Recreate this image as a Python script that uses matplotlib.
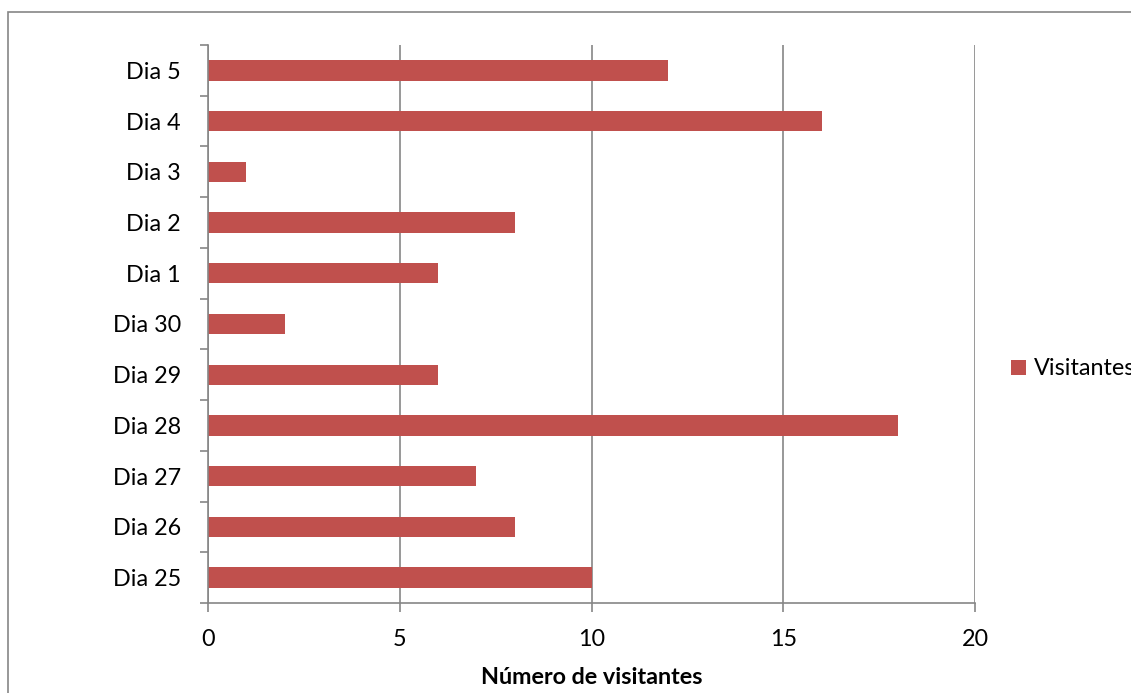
import matplotlib
matplotlib.use("Agg")
import matplotlib.pyplot as plt
from matplotlib.patches import Rectangle
import numpy as np

days = ["Dia 25", "Dia 26", "Dia 27", "Dia 28", "Dia 29", "Dia 30",
        "Dia 1", "Dia 2", "Dia 3", "Dia 4", "Dia 5"]
visitors = [10, 8, 7, 18, 6, 2, 6, 8, 1, 16, 12]
x_ticks = [0, 5, 10, 15, 20]
series_name = "Visitantes"
x_label = "Número de visitantes"

plt.rcParams["font.family"] = ["Lato", "DejaVu Sans"]
bar_color = "#C0504D"
axis_gray = "#868686"
fs = 16.8

fig = plt.figure(figsize=(11.31, 6.93), dpi=100)
ax = fig.add_axes([208 / 1131, 1 - 603 / 693, (975 - 208) / 1131, (603 - 45) / 693])

pos = np.arange(len(days))
ax.barh(pos, visitors, height=0.4, color=bar_color, label=series_name, zorder=3)

ax.set_xlim(0, 20)
ax.set_ylim(-0.5, len(days) - 0.5)
ax.set_xticks(x_ticks)
ax.set_xticklabels([str(t) for t in x_ticks], fontsize=fs)
ax.set_yticks(pos)
ax.set_yticklabels(days, fontsize=fs)
ax.set_yticks(np.arange(-0.5, len(days)), minor=True)

ax.tick_params(axis="y", which="major", length=0, pad=19.5)
ax.tick_params(axis="y", which="minor", length=6, width=1.2, color=axis_gray, direction="out")
ax.tick_params(axis="x", which="major", length=6.5, width=1.2, color=axis_gray, direction="out", pad=12.5)

ax.grid(axis="x", color=axis_gray, linewidth=1.2, zorder=0)
for s in ["top", "right"]:
    ax.spines[s].set_visible(False)
for s in ["left", "bottom"]:
    ax.spines[s].set_color(axis_gray)
    ax.spines[s].set_linewidth(1.2)
    ax.spines[s].set_zorder(4)

ax.set_xlabel(x_label, fontsize=fs, fontweight="bold", labelpad=12)

ax.legend(loc="center left", bbox_to_anchor=(1011 / 1131, 1 - 369 / 693),
          bbox_transform=fig.transFigure, frameon=False, fontsize=fs,
          handlelength=0.65, handleheight=0.65, handletextpad=0.35, borderaxespad=0,
          borderpad=0)

# chart frame, open towards the right and bottom edges
fig.patches.append(Rectangle((8 / 1131, -0.1), 1.2, 1 - 12 / 693 + 0.1,
                             transform=fig.transFigure, fill=False,
                             edgecolor=axis_gray, linewidth=1.2))

fig.savefig("out.png", dpi=100)
